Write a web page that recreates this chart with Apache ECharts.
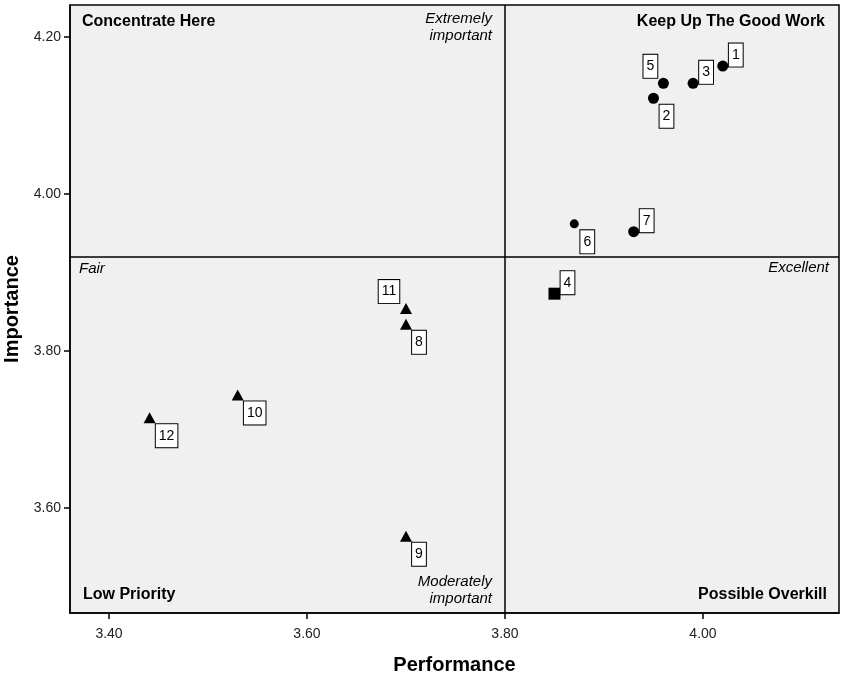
<!DOCTYPE html>
<html>
<head>
<meta charset="utf-8">
<script src="https://cdn.jsdelivr.net/npm/echarts@6/dist/echarts.min.js"></script>
<style>
html,body{margin:0;padding:0;background:#fff;}
#chart{width:845px;height:678px;}
</style>
</head>
<body>
<div id="chart"></div>
<script>
// ---- data ----
var ids         = [1, 2, 3, 4, 5, 6, 7, 8, 9, 10, 11, 12];
var performance = [4.020, 3.950, 3.990, 3.850, 3.960, 3.870, 3.930, 3.700, 3.700, 3.530, 3.700, 3.441];
var importance  = [4.163, 4.122, 4.141, 3.873, 4.141, 3.962, 3.952, 3.834, 3.564, 3.744, 3.854, 3.715];
var groups      = ['circle','circle','circle','square','circle','circle','circle','triangle','triangle','triangle','triangle','triangle'];
var labelSide   = ['ne','se','ne','ne','nw','se','ne','se','se','se','nw','se'];
var xTicks      = [3.40, 3.60, 3.80, 4.00];
var yTicks      = [3.60, 3.80, 4.00, 4.20];
var perfMid = 3.80, impMid = 3.922;
var quadTitles  = ['Concentrate Here', 'Keep Up The Good Work', 'Low Priority', 'Possible Overkill'];
var scaleLabels = ['Extremely\nimportant', 'Fair', 'Excellent', 'Moderately\nimportant'];

// ---- layout ----
var W = 845, H = 678;
var G = {left: 70, top: 5, right: 6, bottom: 65};
var FONT = '"Liberation Sans", Arial, Helvetica, sans-serif';

var chart = echarts.init(document.getElementById('chart'), null, {renderer: 'canvas'});

var symbolMap = {circle: 'circle', square: 'rect', triangle: 'triangle'};
function sizeFor(i) {
  if (groups[i] === 'square') return 12;
  if (groups[i] === 'triangle') return [12, 11];
  return ids[i] === 6 ? 9 : 11;
}
function offsetFor(i) {
  var hw = String(ids[i]).length > 1 ? 11 : 7;
  var s = labelSide[i];
  if (s === 'ne') return [hw + 6, -11];
  if (s === 'se') return [hw + 6, 18];
  return [-(hw + 6), -17];
}

var data = ids.map(function (id, i) {
  return {
    value: [performance[i], importance[i]],
    name: String(id),
    symbol: symbolMap[groups[i]],
    symbolSize: sizeFor(i),
    label: {offset: offsetFor(i)}
  };
});

var plotL = G.left, plotT = G.top, plotR = W - G.right, plotB = H - G.bottom;
var bold = {fontFamily: FONT, fontSize: 16, fontWeight: 'bold', fill: '#000'};
var ital = {fontFamily: FONT, fontSize: 15, fontStyle: 'italic', fill: '#000', lineHeight: 17};

var graphics = [
  {type: 'text', left: plotL + 12, top: plotT + 9, style: Object.assign({text: quadTitles[0]}, bold), z: 10},
  {type: 'text', right: G.right + 14, top: plotT + 9, style: Object.assign({text: quadTitles[1]}, bold), z: 10},
  {type: 'text', left: plotL + 13, top: plotB - 26, style: Object.assign({text: quadTitles[2]}, bold), z: 10},
  {type: 'text', right: G.right + 12, top: plotB - 26, style: Object.assign({text: quadTitles[3]}, bold), z: 10},
  {type: 'text', x: 492, y: plotT + 5, style: Object.assign({text: scaleLabels[0], align: 'right'}, ital), z: 10},
  {type: 'text', left: plotL + 9, top: 260, style: Object.assign({text: scaleLabels[1]}, ital), z: 10},
  {type: 'text', right: G.right + 10, top: 259, style: Object.assign({text: scaleLabels[2]}, ital), z: 10},
  {type: 'text', x: 492, y: 573, style: Object.assign({text: scaleLabels[3], align: 'right'}, ital), z: 10}
];

var option = {
  backgroundColor: '#ffffff',
  animation: false,
  textStyle: {fontFamily: FONT},
  grid: {left: G.left, top: G.top, right: G.right, bottom: G.bottom, show: true,
         containLabel: false, outerBoundsMode: 'none',
         backgroundColor: '#f0f0f0', borderColor: '#000', borderWidth: 1.5},
  xAxis: {
    type: 'value', min: 3.3606, max: 4.1374,
    name: 'Performance', nameLocation: 'middle', nameGap: 42,
    nameTextStyle: {fontFamily: FONT, fontSize: 20, fontWeight: 'bold', color: '#000'},
    axisLine: {show: true, onZero: false, lineStyle: {color: '#000', width: 1.5}},
    axisTick: {show: true, length: 6, lineStyle: {color: '#000', width: 1.5}, customValues: xTicks},
    axisLabel: {customValues: xTicks, color: '#222', fontSize: 14, fontFamily: FONT, margin: 14,
                formatter: function (v) { return v.toFixed(2); }},
    splitLine: {show: false}
  },
  yAxis: {
    type: 'value', min: 3.4662, max: 4.2408,
    name: 'Importance', nameLocation: 'middle', nameGap: 41, nameRotate: 90,
    nameTextStyle: {fontFamily: FONT, fontSize: 20, fontWeight: 'bold', color: '#000'},
    axisLine: {show: true, onZero: false, lineStyle: {color: '#000', width: 1.5}},
    axisTick: {show: true, length: 6, lineStyle: {color: '#000', width: 1.5}, customValues: yTicks},
    axisLabel: {customValues: yTicks, color: '#222', fontSize: 14, fontFamily: FONT, margin: 9,
                formatter: function (v) { return v.toFixed(2); }},
    splitLine: {show: false}
  },
  series: [{
    type: 'scatter',
    data: data,
    itemStyle: {color: '#000', opacity: 1},
    label: {
      show: true, position: 'inside', formatter: '{b}',
      color: '#000', fontFamily: FONT, fontSize: 14,
      backgroundColor: '#fff', borderColor: '#000', borderWidth: 1,
      padding: [4, 3, 3, 3], lineHeight: 16
    },
    markLine: {
      silent: true, symbol: 'none', label: {show: false},
      lineStyle: {color: '#000', width: 1.5, type: 'solid', opacity: 1},
      data: [{xAxis: perfMid}, {yAxis: impMid}]
    },
    z: 5
  }],
  graphic: graphics
};
chart.setOption(option);
</script>
</body>
</html>
